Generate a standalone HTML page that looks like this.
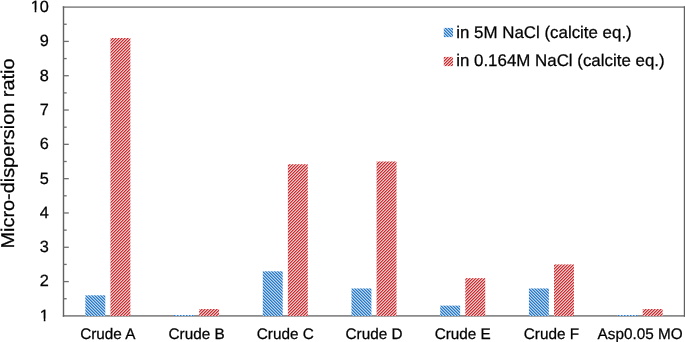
<!DOCTYPE html><html><head><meta charset="utf-8"><style>html,body{margin:0;padding:0;background:#fff;width:685px;height:342px;overflow:hidden}svg{display:block;filter:blur(0.3px)}text{font-family:"Liberation Sans",sans-serif;fill:#000;text-rendering:geometricPrecision;stroke:#000;stroke-width:0.25px}</style></head><body>
<svg width="685" height="342" viewBox="0 0 685 342">
<defs>
<pattern id="hb" patternUnits="userSpaceOnUse" x="0" y="0" width="3" height="3" shape-rendering="crispEdges"><rect x="0" y="0" width="1" height="1" fill="#2676c9"/><rect x="1" y="0" width="1" height="1" fill="#70a8de"/><rect x="2" y="0" width="1" height="1" fill="#bcd6f0"/><rect x="0" y="1" width="1" height="1" fill="#bcd6f0"/><rect x="1" y="1" width="1" height="1" fill="#2676c9"/><rect x="2" y="1" width="1" height="1" fill="#70a8de"/><rect x="0" y="2" width="1" height="1" fill="#70a8de"/><rect x="1" y="2" width="1" height="1" fill="#bcd6f0"/><rect x="2" y="2" width="1" height="1" fill="#2676c9"/></pattern>
<pattern id="hr" patternUnits="userSpaceOnUse" x="0" y="0" width="3" height="3" shape-rendering="crispEdges"><rect x="0" y="0" width="1" height="1" fill="#cf282d"/><rect x="1" y="0" width="1" height="1" fill="#e28184"/><rect x="2" y="0" width="1" height="1" fill="#f4cccb"/><rect x="0" y="1" width="1" height="1" fill="#e28184"/><rect x="1" y="1" width="1" height="1" fill="#f4cccb"/><rect x="2" y="1" width="1" height="1" fill="#cf282d"/><rect x="0" y="2" width="1" height="1" fill="#f4cccb"/><rect x="1" y="2" width="1" height="1" fill="#cf282d"/><rect x="2" y="2" width="1" height="1" fill="#e28184"/></pattern>
</defs>
<line x1="62.80" y1="7.10" x2="685.20" y2="7.10" stroke="#939393" stroke-width="1.6"/>
<line x1="62.80" y1="315.90" x2="685.20" y2="315.90" stroke="#8a8a8a" stroke-width="1.6"/>
<line x1="63.50" y1="6.30" x2="63.50" y2="316.70" stroke="#606060" stroke-width="1.4"/>
<line x1="684.50" y1="6.30" x2="684.50" y2="316.70" stroke="#606060" stroke-width="1.4"/>
<rect x="85.36" y="295.31" width="19.90" height="20.69" fill="url(#hb)"/>
<rect x="110.46" y="37.98" width="19.90" height="278.02" fill="url(#hr)"/>
<rect x="174.07" y="315.01" width="19.90" height="0.99" fill="url(#hb)"/>
<rect x="199.17" y="309.04" width="19.90" height="6.96" fill="url(#hr)"/>
<rect x="262.79" y="271.30" width="19.90" height="44.70" fill="url(#hb)"/>
<rect x="287.89" y="164.24" width="19.90" height="151.76" fill="url(#hr)"/>
<rect x="351.50" y="288.45" width="19.90" height="27.55" fill="url(#hb)"/>
<rect x="376.60" y="161.50" width="19.90" height="154.50" fill="url(#hr)"/>
<rect x="440.21" y="305.61" width="19.90" height="10.39" fill="url(#hb)"/>
<rect x="465.31" y="278.16" width="19.90" height="37.84" fill="url(#hr)"/>
<rect x="528.93" y="288.45" width="19.90" height="27.55" fill="url(#hb)"/>
<rect x="554.03" y="264.43" width="19.90" height="51.57" fill="url(#hr)"/>
<rect x="617.64" y="315.01" width="19.90" height="0.99" fill="url(#hb)"/>
<rect x="642.74" y="309.04" width="19.90" height="6.96" fill="url(#hr)"/>
<line x1="63.50" y1="298.74" x2="66.70" y2="298.74" stroke="#707070" stroke-width="1.3"/>
<line x1="63.50" y1="281.59" x2="68.80" y2="281.59" stroke="#707070" stroke-width="1.3"/>
<line x1="63.50" y1="264.43" x2="66.70" y2="264.43" stroke="#707070" stroke-width="1.3"/>
<line x1="63.50" y1="247.28" x2="68.80" y2="247.28" stroke="#707070" stroke-width="1.3"/>
<line x1="63.50" y1="230.12" x2="66.70" y2="230.12" stroke="#707070" stroke-width="1.3"/>
<line x1="63.50" y1="212.97" x2="68.80" y2="212.97" stroke="#707070" stroke-width="1.3"/>
<line x1="63.50" y1="195.81" x2="66.70" y2="195.81" stroke="#707070" stroke-width="1.3"/>
<line x1="63.50" y1="178.66" x2="68.80" y2="178.66" stroke="#707070" stroke-width="1.3"/>
<line x1="63.50" y1="161.50" x2="66.70" y2="161.50" stroke="#707070" stroke-width="1.3"/>
<line x1="63.50" y1="144.34" x2="68.80" y2="144.34" stroke="#707070" stroke-width="1.3"/>
<line x1="63.50" y1="127.19" x2="66.70" y2="127.19" stroke="#707070" stroke-width="1.3"/>
<line x1="63.50" y1="110.03" x2="68.80" y2="110.03" stroke="#707070" stroke-width="1.3"/>
<line x1="63.50" y1="92.88" x2="66.70" y2="92.88" stroke="#707070" stroke-width="1.3"/>
<line x1="63.50" y1="75.72" x2="68.80" y2="75.72" stroke="#707070" stroke-width="1.3"/>
<line x1="63.50" y1="58.57" x2="66.70" y2="58.57" stroke="#707070" stroke-width="1.3"/>
<line x1="63.50" y1="41.41" x2="68.80" y2="41.41" stroke="#707070" stroke-width="1.3"/>
<line x1="63.50" y1="24.26" x2="66.70" y2="24.26" stroke="#707070" stroke-width="1.3"/>
<text x="48.80" y="320.80" font-size="16.3" text-anchor="end">1</text>
<text x="48.80" y="286.49" font-size="16.3" text-anchor="end">2</text>
<text x="48.80" y="252.18" font-size="16.3" text-anchor="end">3</text>
<text x="48.80" y="217.87" font-size="16.3" text-anchor="end">4</text>
<text x="48.80" y="183.56" font-size="16.3" text-anchor="end">5</text>
<text x="48.80" y="149.24" font-size="16.3" text-anchor="end">6</text>
<text x="48.80" y="114.93" font-size="16.3" text-anchor="end">7</text>
<text x="48.80" y="80.62" font-size="16.3" text-anchor="end">8</text>
<text x="48.80" y="46.31" font-size="16.3" text-anchor="end">9</text>
<text x="48.80" y="12.00" font-size="16.3" text-anchor="end">10</text>
<rect x="39.58" y="318.60" width="4.18" height="3.80" fill="#fff"/>
<rect x="45.40" y="318.60" width="3.84" height="3.80" fill="#fff"/>
<rect x="30.51" y="9.80" width="4.18" height="3.80" fill="#fff"/>
<rect x="36.34" y="9.80" width="3.84" height="3.80" fill="#fff"/>
<text x="107.86" y="338.80" font-size="15.3" text-anchor="middle">Crude A</text>
<text x="196.57" y="338.80" font-size="15.3" text-anchor="middle">Crude B</text>
<text x="285.29" y="338.80" font-size="15.3" text-anchor="middle">Crude C</text>
<text x="374.00" y="338.80" font-size="15.3" text-anchor="middle">Crude D</text>
<text x="462.71" y="338.80" font-size="15.3" text-anchor="middle">Crude E</text>
<text x="551.43" y="338.80" font-size="15.3" text-anchor="middle">Crude F</text>
<text x="640.14" y="338.80" font-size="15.3" text-anchor="middle">Asp0.05 MO</text>
<text transform="translate(14.30,153.50) rotate(-90)" font-size="18.5" text-anchor="middle" textLength="190" lengthAdjust="spacingAndGlyphs">Micro-dispersion ratio</text>
<rect x="443.8" y="27.9" width="9.2" height="9.2" fill="url(#hb)"/>
<rect x="443.8" y="56.9" width="9.2" height="9.2" fill="url(#hr)"/>
<text x="456.20" y="37.80" font-size="16.9">in 5M NaCl (calcite eq.)</text>
<text x="456.20" y="66.40" font-size="16.9">in 0.164M NaCl (calcite eq.)</text>
</svg></body></html>
